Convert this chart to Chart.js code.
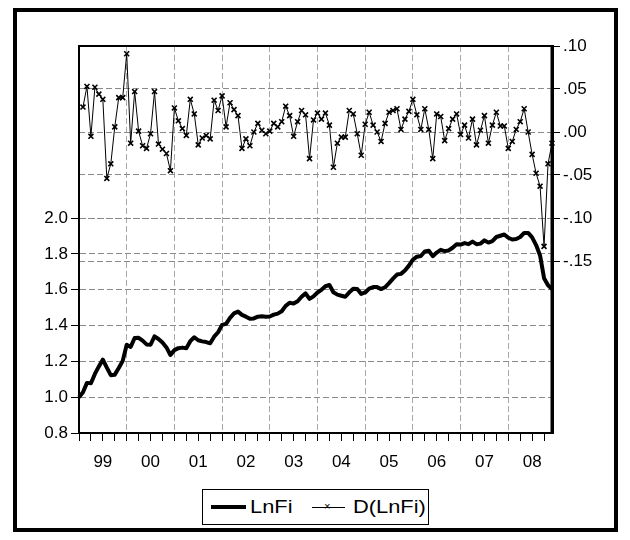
<!DOCTYPE html>
<html>
<head>
<meta charset="utf-8">
<script src="https://cdn.jsdelivr.net/npm/chart.js@4.4.1/dist/chart.umd.min.js"></script>
<style>
  html, body { margin: 0; padding: 0; background: #fff; }
  #wrap { position: relative; width: 630px; height: 540px; }
  #legend {
    position: absolute; left: 202px; top: 489px; width: 227px; height: 36px;
    box-sizing: border-box; border: 1px solid #000; background: #fff;
    font: 19px "Liberation Sans", Arial, sans-serif; color: #000;
  }
  #legend span { position: absolute; top: 6px; transform: scaleX(1.15); transform-origin: left center; }
  .thick { position: absolute; left: 8px; top: 15px; width: 35px; height: 4px; background: #000; }
  .thin { position: absolute; left: 109px; top: 17px; width: 33px; height: 1px; background: #000; }
  .mark { position: absolute; left: 121px; top: 11px; font-size: 11px; line-height: 11px; }
</style>
</head>
<body>
<div id="wrap">
  <canvas id="myChart" width="630" height="540"></canvas>
  <div id="legend">
    <div class="thick"></div><span style="left:47px">LnFi</span>
    <div class="thin"></div><div class="mark">×</div><span style="left:150px">D(LnFi)</span>
  </div>
</div>
<script>
// year labels shown under the x axis, one per year, months in between
const yearLabels = ["99", "00", "01", "02", "03", "04", "05", "06", "07", "08"];
const leftTicks = [0.8, 1.0, 1.2, 1.4, 1.6, 1.8, 2.0];
const rightTicks = [-0.15, -0.10, -0.05, 0.00, 0.05, 0.10];

// monthly log index, 1999M01 - 2008M12
const lnFi = [
  1.000, 1.028, 1.080, 1.078, 1.130, 1.172, 1.210, 1.165, 1.123, 1.126, 1.163, 1.203,
  1.293, 1.281, 1.331, 1.332, 1.316, 1.295, 1.293, 1.340, 1.325, 1.305, 1.278, 1.236,
  1.263, 1.274, 1.277, 1.274, 1.313, 1.335, 1.318, 1.312, 1.308, 1.301, 1.338, 1.363,
  1.404, 1.410, 1.443, 1.468, 1.478, 1.460, 1.450, 1.438, 1.440, 1.450, 1.452, 1.450,
  1.451, 1.461, 1.467, 1.480, 1.510, 1.528, 1.523, 1.536, 1.561, 1.580, 1.549, 1.563,
  1.585, 1.600, 1.620, 1.627, 1.586, 1.573, 1.567, 1.561, 1.586, 1.606, 1.604, 1.577,
  1.585, 1.607, 1.615, 1.615, 1.604, 1.614, 1.637, 1.662, 1.685, 1.689, 1.708, 1.735,
  1.768, 1.785, 1.789, 1.814, 1.818, 1.788, 1.808, 1.823, 1.816, 1.820, 1.835, 1.855,
  1.853, 1.861, 1.855, 1.869, 1.855, 1.858, 1.876, 1.864, 1.872, 1.895, 1.902, 1.909,
  1.891, 1.881, 1.884, 1.895, 1.918, 1.918, 1.893, 1.850, 1.792, 1.665, 1.625, 1.605
];

// first difference, no value for the first month
const dLnFi = [
  null, 0.029, 0.053, -0.005, 0.052, 0.044, 0.038, -0.054, -0.037, 0.006, 0.040, 0.040,
  0.091, -0.013, 0.047, 0.001, -0.016, -0.019, -0.002, 0.047, -0.014, -0.020, -0.025, -0.045,
  0.028, 0.013, 0.004, -0.004, 0.038, 0.021, -0.015, -0.007, -0.004, -0.008, 0.037, 0.025,
  0.042, 0.006, 0.034, 0.026, 0.019, -0.019, -0.008, -0.016, 0.000, 0.010, 0.002, -0.002,
  0.001, 0.010, 0.006, 0.012, 0.030, 0.019, -0.005, 0.012, 0.025, 0.020, -0.031, 0.014,
  0.022, 0.015, 0.022, 0.008, -0.041, -0.013, -0.006, -0.006, 0.025, 0.021, -0.002, -0.027,
  0.009, 0.023, 0.008, 0.000, -0.011, 0.010, 0.023, 0.025, 0.027, 0.003, 0.015, 0.024,
  0.038, 0.020, 0.003, 0.027, 0.003, -0.031, 0.021, 0.018, -0.010, 0.004, 0.015, 0.021,
  -0.003, 0.008, -0.007, 0.015, -0.015, 0.002, 0.019, -0.013, 0.008, 0.023, 0.007, 0.007,
  -0.019, -0.011, 0.003, 0.012, 0.027, 0.000, -0.026, -0.048, -0.063, -0.133, -0.037, -0.013
];

const months = yearLabels.flatMap(y => Array.from({ length: 12 }, (_, m) => y + ":" + (m + 1)));

const FONT = { family: "'Liberation Sans', Arial, sans-serif", size: 17 };
const NONE = "rgba(0,0,0,0)";

// plot frame + outer box
const framePlugin = {
  id: "frame",
  afterDraw(chart) {
    const { ctx, chartArea: a } = chart;
    ctx.save();
    ctx.strokeStyle = "#000";
    ctx.lineWidth = 2;
    ctx.beginPath();
    ctx.moveTo(a.left, a.top); ctx.lineTo(a.right, a.top);
    ctx.moveTo(a.left, a.top); ctx.lineTo(a.left, a.bottom); ctx.lineTo(a.right, a.bottom);
    ctx.stroke();
    ctx.lineWidth = 3;
    ctx.beginPath();
    ctx.moveTo(a.right, a.top - 1); ctx.lineTo(a.right, a.bottom + 1);
    ctx.stroke();
    ctx.lineWidth = 4;
    ctx.strokeRect(15, 10, 601, 520);
    ctx.restore();
  }
};

const ctx = document.getElementById("myChart").getContext("2d");

new Chart(ctx, {
  type: "line",
  data: {
    labels: months,
    datasets: [
      {
        label: "D(LnFi)",
        data: dLnFi,
        yAxisID: "y1",
        borderColor: "#000",
        borderWidth: 1,
        pointStyle: "crossRot",
        pointRadius: 3.5,
        pointBorderWidth: 1.6,
        pointBorderColor: "#000",
        tension: 0
      },
      {
        label: "LnFi",
        data: lnFi,
        yAxisID: "y",
        borderColor: "#000",
        borderWidth: 4,
        borderJoinStyle: "round",
        pointRadius: 0,
        tension: 0
      }
    ]
  },
  options: {
    responsive: false,
    animation: false,
    layout: { padding: { top: 46, left: 0, right: 0, bottom: 0 } },
    plugins: { legend: { display: false }, tooltip: { enabled: false } },
    scales: {
      x: {
        type: "category",
        offset: false,
        afterFit: s => { s.height = 107; },
        grid: {
          offset: false,
          color: c => (c.index > 0 && c.index % 12 === 0 ? "#a8a8a8" : NONE),
          tickColor: c => (c.index % 3 === 0 ? "#000" : NONE),
          tickLength: 8,
          tickWidth: 1
        },
        border: { color: "#000", width: 2, dash: [6, 3] },
        ticks: {
          autoSkip: false,
          maxRotation: 0,
          minRotation: 0,
          padding: 11,
          color: "#000",
          font: FONT,
          callback: (v, i) => (i % 12 === 6 ? yearLabels[Math.floor(i / 12)] : "")
        }
      },
      y: {
        position: "left",
        min: 0.8,
        max: 2.962,
        afterFit: s => { s.width = 79; },
        afterBuildTicks: s => { s.ticks = leftTicks.map(v => ({ value: v })); },
        grid: { color: "#8a8a8a", tickColor: "#000", tickLength: 8 },
        border: { color: "#000", width: 2, dash: [6, 3] },
        ticks: {
          padding: 3,
          color: "#000",
          font: FONT,
          callback: v => v.toFixed(1)
        }
      },
      y1: {
        position: "right",
        min: -0.35,
        max: 0.10,
        afterFit: s => { s.width = 78; },
        afterBuildTicks: s => { s.ticks = rightTicks.map(v => ({ value: v })); },
        grid: { color: "#8a8a8a", tickColor: "#000", tickLength: 8 },
        border: { color: "#000", width: 3, dash: [6, 3] },
        ticks: {
          padding: 3,
          color: "#000",
          font: FONT,
          callback: v => (v < 0 ? "-" : "") + Math.abs(v).toFixed(2).replace(/^0/, "")
        }
      }
    }
  },
  plugins: [framePlugin]
});
</script>
</body>
</html>
